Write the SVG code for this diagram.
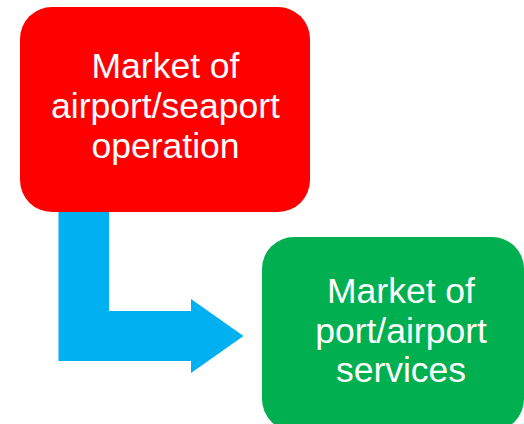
<svg xmlns="http://www.w3.org/2000/svg" width="524" height="424" viewBox="0 0 524 424">
<style>
.t{font-family:"Liberation Sans","Open Sans",Arial,sans-serif;font-size:35.5px;fill:#fff;text-anchor:middle}
</style>
<rect width="524" height="424" fill="#fff"/>
<g id="connectors">
<polygon points="58.5,200 109,200 109,311 191,311 191,299 243.5,336 191,373 191,361 58.5,361" fill="#00B0F0"/>
</g>
<g id="node-operation">
<rect x="20" y="7" width="290" height="205" rx="32" ry="32" fill="#FF0000"/>
<text class="t" x="165.5" y="78">Market of</text>
<text class="t" x="165.5" y="118">airport/seaport</text>
<text class="t" x="165.5" y="158">operation</text>
</g>
<g id="node-services">
<rect x="262" y="237" width="262" height="194" rx="32" ry="32" fill="#00B050"/>
<text class="t" x="401" y="303">Market of</text>
<text class="t" x="401" y="343">port/airport</text>
<text class="t" x="401" y="382">services</text>
</g>
</svg>
